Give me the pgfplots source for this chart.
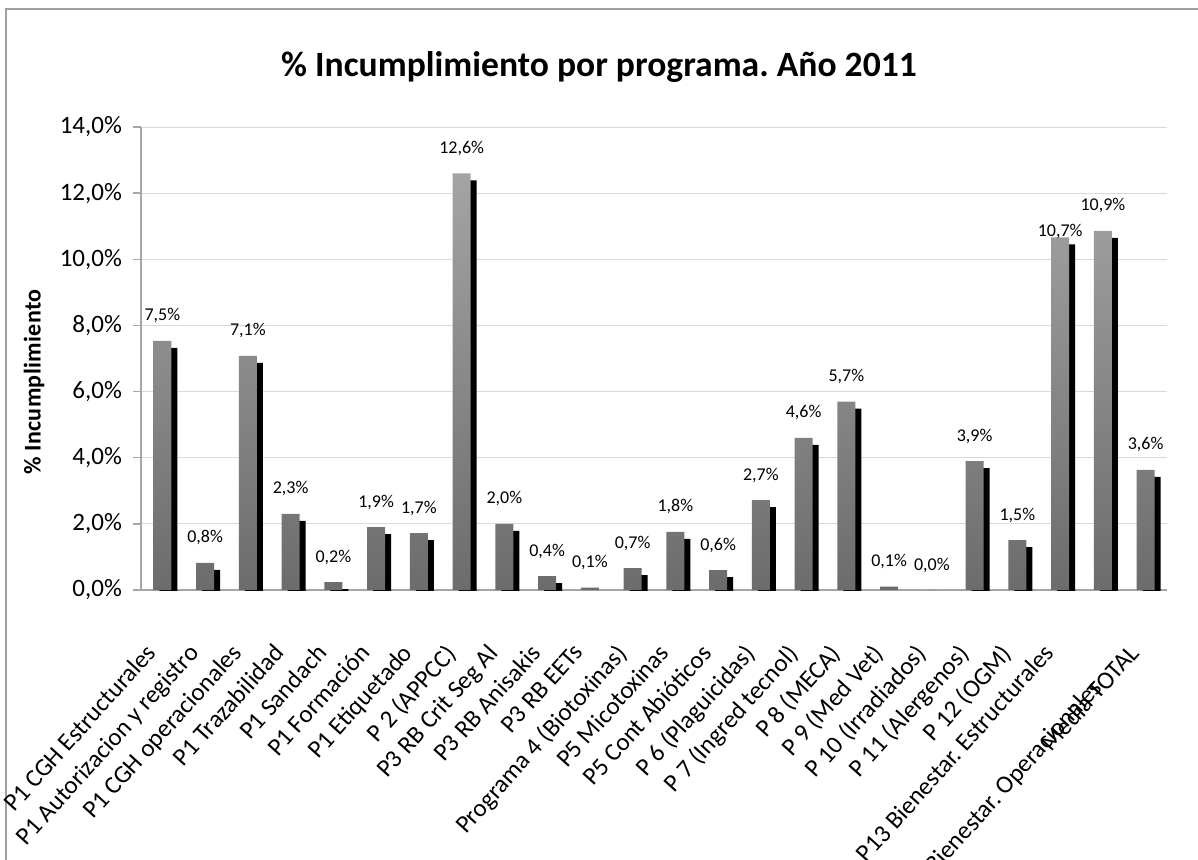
\documentclass[border=0pt]{standalone}
\usepackage{fontspec}
\setmainfont{Carlito}
\usepackage{pgfplots}
\usepackage{pgfplotstable}
\pgfplotsset{compat=1.18}
\frenchspacing

\definecolor{gridc}{RGB}{217,217,217}
\definecolor{axisc}{RGB}{166,166,166}
\definecolor{bartop}{RGB}{164,164,164}
\definecolor{barbot}{RGB}{108,108,108}
\definecolor{framec}{RGB}{160,160,160}

% x = category index, y = % incumplimiento, dy = label offset (pt)
\pgfplotstableread{
x y dy
0 7.53 10
1 0.82 10
2 7.08 10
3 2.30 10
4 0.24 10
5 1.90 10
6 1.72 10
7 12.60 10
8 2.00 10
9 0.42 10
10 0.07 10
11 0.66 10
12 1.76 10
13 0.60 10
14 2.72 10
15 4.60 10
16 5.70 10
17 0.10 10
18 0.00 10
19 3.90 10
20 1.51 10
21 10.66 0.5
22 10.86 10
23 3.63 10
}\datos

\begin{document}
\begin{tikzpicture}
\useasboundingbox (-70.5pt,-134.5pt) rectangle (528.5pt,295pt);
\draw[framec, line width=1pt] (-67.25pt,-140pt) -- (-67.25pt,290.5pt) -- (535pt,290.5pt);
\node[font=\bfseries\fontsize{17.8}{21}\selectfont, anchor=base] at (229pt,257pt)
  {\% Incumplimiento por programa. Año 2011};
\begin{axis}[
  scale only axis,
  width=513pt, height=231.5pt,
  xmin=-0.5, xmax=23.5,
  ymin=0, ymax=14,
  ytick={0,2,...,14},
  yticklabels={{0,0\%},{2,0\%},{4,0\%},{6,0\%},{8,0\%},{10,0\%},{12,0\%},{14,0\%}},
  yticklabel style={font=\fontsize{12.5}{14}\selectfont, xshift=-2pt},
  xtick={0,...,23},
  xticklabels={P1 CGH Estructurales, P1 Autorizacion y registro, P1 CGH operacionales,
    P1 Trazabilidad, P1 Sandach, P1 Formación, P1 Etiquetado, P 2 (APPCC),
    P3 RB Crit Seg Al, P3 RB Anisakis, P3 RB EETs, Programa 4 (Biotoxinas),
    P5 Micotoxinas, P5 Cont Abióticos, P 6 (Plaguicidas), P 7 (Ingred tecnol),
    P 8 (MECA), P 9 (Med Vet), P 10 (Irradiados), P 11 (Alergenos), P 12 (OGM),
    P13 Bienestar. Estructurales, {}, Media TOTAL},
  extra x ticks={22},
  extra x tick labels={P13 Bienestar. Operacionales},
  extra x tick style={xticklabel style={xshift=-11.3pt, yshift=-13.6pt}},
  xticklabel style={xshift=-9pt, rotate=48, anchor=north east, inner sep=0pt,
    font=\fontsize{12.5}{15}\selectfont},
  xticklabel shift=22pt,
  xtick style={draw=none},
  ymajorgrids,
  grid style={gridc, line width=0.5pt},
  axis x line*=bottom, axis y line*=left,
  axis line style={axisc, line width=0.75pt},
  ytick style={axisc, line width=0.75pt},
  tick align=outside, major tick length=4pt,
  every axis y label/.style={at={(axis description cs:-0.1043,0.449)},
    rotate=90, anchor=center,
    font=\bfseries\fontsize{12}{14}\selectfont\addfontfeature{LetterSpace=1.5}},
  ylabel={\% Incumplimiento},
]
% sombra negra
\addplot[ybar, bar width=9pt, bar shift=3pt, fill=black, draw=none, yshift=-3.5pt]
  table[x=x, y=y] {\datos};
% barras grises
\addplot[ybar, bar width=9pt, bar shift=0pt, draw=none,
  top color=bartop, bottom color=barbot,
  visualization depends on={\thisrow{dy} \as \labdy},
  nodes near coords={\pgfmathprintnumber[fixed, fixed zerofill, precision=1,
    use comma, assume math mode=true]{\pgfplotspointmeta}\%},
  every node near coord/.append style={font=\fontsize{9}{10}\selectfont,
    anchor=base, inner sep=0pt, yshift=\labdy pt, black}]
  table[x=x, y=y] {\datos};
\end{axis}
\end{tikzpicture}
\end{document}
